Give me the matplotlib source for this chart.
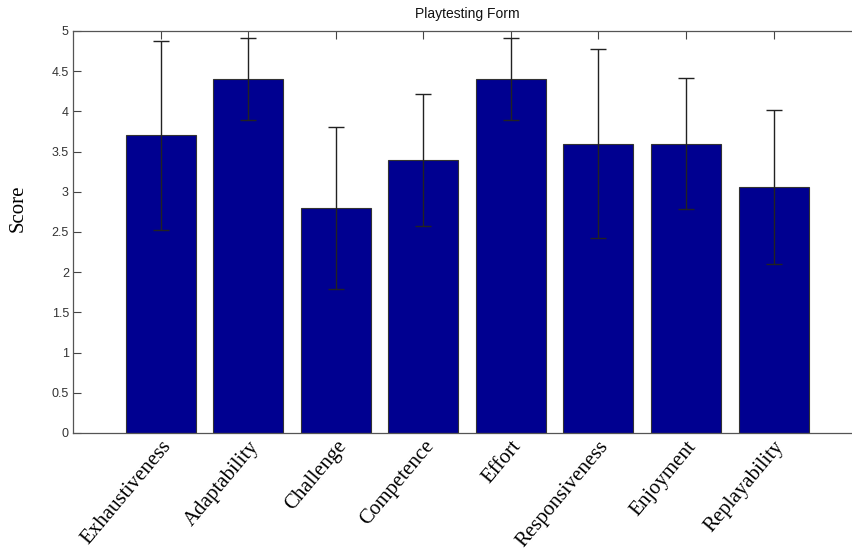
import matplotlib
matplotlib.use("Agg")
import matplotlib.pyplot as plt
import numpy as np

categories = ["Exhaustiveness", "Adaptability", "Challenge", "Competence",
              "Effort", "Responsiveness", "Enjoyment", "Replayability"]
means = [3.70, 4.40, 2.80, 3.40, 4.40, 3.60, 3.60, 3.06]
errors = [1.17, 0.51, 1.01, 0.82, 0.51, 1.17, 0.82, 0.96]
yticks = [0, 0.5, 1, 1.5, 2, 2.5, 3, 3.5, 4, 4.5, 5]
ytick_labels = ["0", "0.5", "1", "1.5", "2", "2.5", "3", "3.5", "4", "4.5", "5"]

fig = plt.figure(figsize=(8.52, 5.53), dpi=100)
ax = fig.add_axes([0.0857, 0.217, 0.925, 0.727])

x = np.arange(1, len(categories) + 1)
ax.bar(x, means, width=0.8, color="#000090", edgecolor="#333333", linewidth=0.8, zorder=2)
ax.errorbar(x, means, yerr=errors, fmt="none", ecolor="#222222", elinewidth=1.0,
            capsize=6, capthick=1.0, zorder=3)

ax.set_xlim(0, 9)
ax.set_ylim(0, 5)
ax.set_yticks(yticks)
ax.set_yticklabels(ytick_labels, fontfamily="Liberation Sans", fontsize=9, color="#333333")
ax.set_xticks(x)
ax.set_xticklabels(categories, rotation=50, ha="right", rotation_mode="anchor",
                   fontfamily="Liberation Serif", fontsize=15)
ax.tick_params(axis="y", direction="in", length=6, width=0.8, color="#444444", right=False, pad=3)
ax.tick_params(axis="x", direction="in", length=6, width=0.8, color="#444444", top=True, pad=3)

for s in ax.spines.values():
    s.set_color("#555555")
    s.set_linewidth(0.9)

ax.set_ylabel("Score", fontfamily="Liberation Serif", fontsize=15)
ax.yaxis.set_label_coords(-0.057, 0.56)
ax.set_title("Playtesting Form", fontfamily="Liberation Sans", fontsize=10,
             color="#111111", pad=9)

fig.savefig("out.png", dpi=100)
